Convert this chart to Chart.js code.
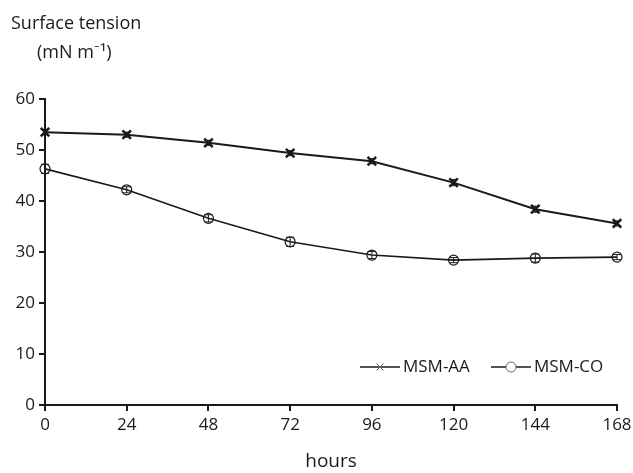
<!DOCTYPE html>
<html><head><meta charset="utf-8">
<script src="https://cdn.jsdelivr.net/npm/chart.js@4/dist/chart.umd.min.js"></script>
<style>html,body{margin:0;padding:0;background:#fff}#wrap{width:633px;height:473px}</style>
</head><body><div id="wrap"><canvas id="c" width="633" height="473"></canvas></div>
<script>
const hours = [0, 24, 48, 72, 96, 120, 144, 168];
const msmAA = [53.5, 53.0, 51.4, 49.4, 47.8, 43.6, 38.4, 35.6];
const msmCO = [46.3, 42.2, 36.6, 32.0, 29.4, 28.4, 28.8, 29.0];
const errAA = [0.5, 0.5, 0.5, 0.5, 0.5, 0.6, 0.6, 0.5];
const errCO = [0.9, 0.6, 0.7, 0.9, 0.7, 0.5, 0.8, 0.5];
const xTicks = [0, 24, 48, 72, 96, 120, 144, 168];
const yTicks = [0, 10, 20, 30, 40, 50, 60];
const seriesNames = ['MSM-AA', 'MSM-CO'];
const FONT = '"Open Sans", Lato, sans-serif';
const INK = '#1a1a1a';

const errorBars = {
  id: 'errorBars',
  afterDatasetsDraw(chart) {
    const ctx = chart.ctx, ys = chart.scales.y;
    [errAA, errCO].forEach((errs, di) => {
      const meta = chart.getDatasetMeta(di);
      ctx.save(); ctx.strokeStyle = INK; ctx.lineWidth = 1;
      meta.data.forEach((pt, i) => {
        const v = chart.data.datasets[di].data[i].y;
        const t = ys.getPixelForValue(v + errs[i]), b = ys.getPixelForValue(v - errs[i]);
        ctx.beginPath();
        ctx.moveTo(pt.x, t); ctx.lineTo(pt.x, b);
        ctx.moveTo(pt.x - 4, t); ctx.lineTo(pt.x + 4, t);
        ctx.moveTo(pt.x - 4, b); ctx.lineTo(pt.x + 4, b);
        ctx.stroke();
      });
      ctx.restore();
    });
  }
};

const extras = {
  id: 'extras',
  afterDraw(chart) {
    const ctx = chart.ctx;
    ctx.save();
    ctx.fillStyle = INK;
    ctx.font = '18px ' + FONT;
    ctx.textBaseline = 'middle';
    ctx.textAlign = 'left';
    ctx.fillText('Surface tension', 11, 24);
    ctx.fillText('(mN m\u207B\u00B9)', 37, 53);
    // legend
    const ly = 367;
    const items = [
      {x0: 360, style: 'crossRot', name: seriesNames[0]},
      {x0: 491, style: 'circle', name: seriesNames[1]}
    ];
    items.forEach(it => {
      ctx.strokeStyle = INK; ctx.lineWidth = 1.5;
      ctx.beginPath(); ctx.moveTo(it.x0, ly); ctx.lineTo(it.x0 + 40, ly); ctx.stroke();
      ctx.strokeStyle = '#666'; ctx.lineWidth = 1; ctx.fillStyle = '#fff';
      Chart.helpers.drawPoint(ctx, {pointStyle: it.style, radius: 5, borderWidth: 1}, it.x0 + 20, ly);
      ctx.fillStyle = INK;
      ctx.font = '17px ' + FONT;
      ctx.fillText(it.name, it.x0 + 43, ly);
    });
    ctx.restore();
  }
};

new Chart(document.getElementById('c'), {
  type: 'line',
  data: {
    datasets: [
      {label: seriesNames[0], data: hours.map((h, i) => ({x: h, y: msmAA[i]})), clip: false,
       borderColor: INK, backgroundColor: 'rgba(0,0,0,0)', borderWidth: 2,
       pointStyle: 'crossRot', pointRadius: 6, pointBorderWidth: 2.5, pointBorderColor: INK, tension: 0},
      {label: seriesNames[1], data: hours.map((h, i) => ({x: h, y: msmCO[i]})), clip: false,
       borderColor: INK, backgroundColor: 'rgba(0,0,0,0)', borderWidth: 1.6,
       pointStyle: 'circle', pointRadius: 5, pointBorderWidth: 1.2, pointBorderColor: INK,
       pointBackgroundColor: 'rgba(255,255,255,0)', tension: 0}
    ]
  },
  options: {
    responsive: false, animation: false,
    layout: {padding: {top: 99, right: 16, left: 0, bottom: 0}},
    plugins: {legend: {display: false}, tooltip: {enabled: false}},
    scales: {
      x: {
        type: 'linear', min: 0, max: 168,
        afterBuildTicks: s => { s.ticks = xTicks.map(v => ({value: v})); },
        afterFit: s => { s.height = 68; s.paddingRight = 0; s.paddingLeft = 0; },
        border: {display: true, color: INK, width: 2},
        grid: {drawOnChartArea: false, drawTicks: true, tickLength: 6, color: INK, lineWidth: 2},
        ticks: {color: INK, font: {family: FONT, size: 17}, padding: 4, maxRotation: 0},
        title: {display: true, text: 'hours', color: INK, font: {family: FONT, size: 19}, padding: {top: 0, bottom: 0}}
      },
      y: {
        min: 0, max: 60,
        afterBuildTicks: s => { s.ticks = yTicks.map(v => ({value: v})); },
        afterFit: s => { s.width = 45; },
        border: {display: true, color: INK, width: 2},
        grid: {drawOnChartArea: false, drawTicks: true, tickLength: 6, color: INK, lineWidth: 2},
        ticks: {color: INK, font: {family: FONT, size: 17}, padding: 4}
      }
    }
  },
  plugins: [errorBars, extras]
});
</script></body></html>
